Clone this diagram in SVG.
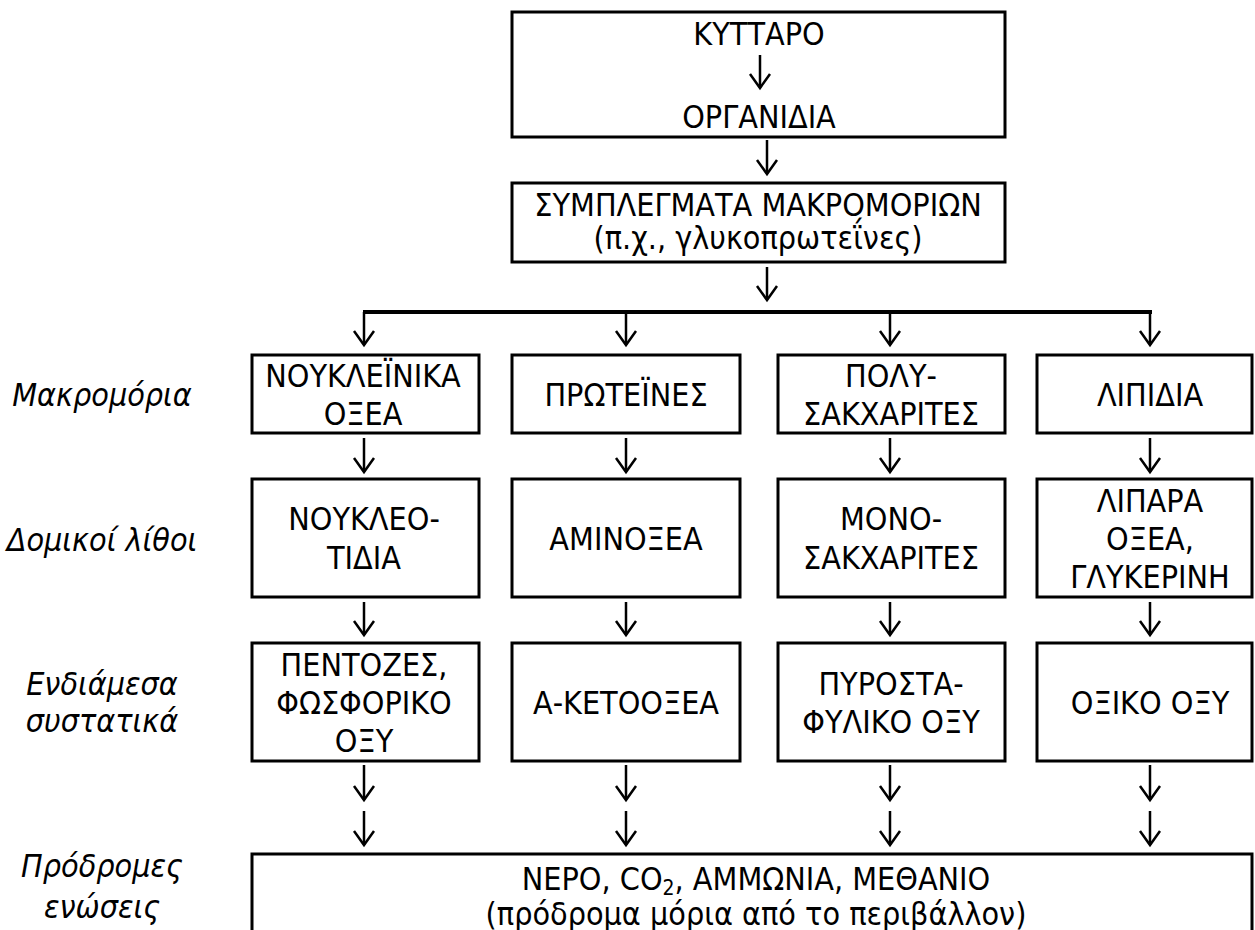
<svg xmlns="http://www.w3.org/2000/svg" width="1255" height="930" viewBox="0 0 1255 930">
<style>
.box{fill:#fff;stroke:#000;stroke-width:3}
.t{font-family:"DejaVu Sans Condensed","DejaVu Sans",sans-serif;font-size:32px;fill:#000;text-anchor:middle}
.lab{font-family:"DejaVu Sans Condensed","DejaVu Sans",sans-serif;font-size:32px;font-style:italic;fill:#000;text-anchor:middle}
.c{fill:none;stroke:#000;stroke-width:2.5}
.bar{fill:none;stroke:#000;stroke-width:4}
</style>
<defs>
<marker id="ah" markerUnits="userSpaceOnUse" markerWidth="30" markerHeight="30" refX="0" refY="0" orient="auto" overflow="visible">
<path d="M-14,-10 L0,0 L-14,10" fill="none" stroke="#000" stroke-width="2.5"/>
</marker>
</defs>
<rect width="1255" height="930" fill="#fff"/>

<g id="labels">
<text class="lab" x="102" y="406">Μακρομόρια</text>
<text class="lab" x="102" y="551">Δομικοί λίθοι</text>
<text class="lab" x="102" y="695">Ενδιάμεσα</text>
<text class="lab" x="102" y="732">συστατικά</text>
<text class="lab" x="102" y="877">Πρόδρομες</text>
<text class="lab" x="102" y="918">ενώσεις</text>
</g>

<g id="cell">
<rect class="box" x="512" y="12" width="493" height="125"/>
<text class="t" x="759" y="45">ΚΥΤΤΑΡΟ</text>
<text class="t" x="759" y="128">ΟΡΓΑΝΙΔΙΑ</text>
</g>

<g id="complexes">
<rect class="box" x="512" y="183" width="493" height="79"/>
<text class="t" x="758" y="216">ΣΥΜΠΛΕΓΜΑΤΑ ΜΑΚΡΟΜΟΡΙΩΝ</text>
<text class="t" x="758" y="249">(π.χ., γλυκοπρωτεΐνες)</text>
</g>

<g id="nucleic-acids">
<rect class="box" x="252" y="355" width="227" height="78"/>
<text class="t" x="363" y="387">ΝΟΥΚΛΕΪΝΙΚΑ</text>
<text class="t" x="363" y="425">ΟΞΕΑ</text>
</g>
<g id="proteins">
<rect class="box" x="512" y="355" width="228" height="78"/>
<text class="t" x="626" y="406">ΠΡΩΤΕΪΝΕΣ</text>
</g>
<g id="polysaccharides">
<rect class="box" x="778" y="355" width="227" height="78"/>
<text class="t" x="891" y="387">ΠΟΛΥ-</text>
<text class="t" x="891" y="425">ΣΑΚΧΑΡΙΤΕΣ</text>
</g>
<g id="lipids">
<rect class="box" x="1037" y="355" width="215" height="78"/>
<text class="t" x="1150" y="406">ΛΙΠΙΔΙΑ</text>
</g>

<g id="nucleotides">
<rect class="box" x="252" y="479" width="227" height="118"/>
<text class="t" x="364" y="530">ΝΟΥΚΛΕΟ-</text>
<text class="t" x="364" y="569">ΤΙΔΙΑ</text>
</g>
<g id="amino-acids">
<rect class="box" x="512" y="479" width="228" height="118"/>
<text class="t" x="626" y="550">ΑΜΙΝΟΞΕΑ</text>
</g>
<g id="monosaccharides">
<rect class="box" x="778" y="479" width="227" height="118"/>
<text class="t" x="891" y="530">ΜΟΝΟ-</text>
<text class="t" x="891" y="569">ΣΑΚΧΑΡΙΤΕΣ</text>
</g>
<g id="fatty-acids">
<rect class="box" x="1037" y="479" width="215" height="118"/>
<text class="t" x="1150" y="512">ΛΙΠΑΡΑ</text>
<text class="t" x="1150" y="550">ΟΞΕΑ,</text>
<text class="t" x="1150" y="588">ΓΛΥΚΕΡΙΝΗ</text>
</g>

<g id="pentoses">
<rect class="box" x="252" y="643" width="227" height="118"/>
<text class="t" x="364" y="676">ΠΕΝΤΟΖΕΣ,</text>
<text class="t" x="364" y="714">ΦΩΣΦΟΡΙΚΟ</text>
<text class="t" x="364" y="752">ΟΞΥ</text>
</g>
<g id="keto-acids">
<rect class="box" x="512" y="643" width="228" height="118"/>
<text class="t" x="626" y="714">Α-ΚΕΤΟΟΞΕΑ</text>
</g>
<g id="pyruvic">
<rect class="box" x="778" y="643" width="227" height="118"/>
<text class="t" x="891" y="695">ΠΥΡΟΣΤΑ-</text>
<text class="t" x="891" y="733">ΦΥΛΙΚΟ ΟΞΥ</text>
</g>
<g id="acetic">
<rect class="box" x="1037" y="643" width="215" height="118"/>
<text class="t" x="1150" y="714">ΟΞΙΚΟ ΟΞΥ</text>
</g>

<g id="precursors">
<rect class="box" x="252" y="854" width="1000" height="90"/>
<text class="t" x="756" y="890">ΝΕΡΟ, CO<tspan font-size="21" dy="5">2</tspan><tspan dy="-5">, ΑΜΜΩΝΙΑ, ΜΕΘΑΝΙΟ</tspan></text>
<text class="t" x="756" y="925">(πρόδρομα μόρια από το περιβάλλον)</text>
</g>

<g id="connectors">
<path class="c" d="M760,55 V88" marker-end="url(#ah)"/>
<path class="c" d="M767,140 V174" marker-end="url(#ah)"/>
<path class="c" d="M767,267 V300" marker-end="url(#ah)"/>
<path class="bar" d="M363,312 H1152"/>
<path class="c" d="M364,312 V345" marker-end="url(#ah)"/>
<path class="c" d="M626,312 V345" marker-end="url(#ah)"/>
<path class="c" d="M890,312 V345" marker-end="url(#ah)"/>
<path class="c" d="M1150,312 V345" marker-end="url(#ah)"/>
<path class="c" d="M364,438 V472" marker-end="url(#ah)"/>
<path class="c" d="M626,438 V472" marker-end="url(#ah)"/>
<path class="c" d="M890,438 V472" marker-end="url(#ah)"/>
<path class="c" d="M1150,438 V472" marker-end="url(#ah)"/>
<path class="c" d="M364,602 V635" marker-end="url(#ah)"/>
<path class="c" d="M626,602 V635" marker-end="url(#ah)"/>
<path class="c" d="M890,602 V635" marker-end="url(#ah)"/>
<path class="c" d="M1150,602 V635" marker-end="url(#ah)"/>
<path class="c" d="M364,765 V800" marker-end="url(#ah)"/>
<path class="c" d="M626,765 V800" marker-end="url(#ah)"/>
<path class="c" d="M890,765 V800" marker-end="url(#ah)"/>
<path class="c" d="M1150,765 V800" marker-end="url(#ah)"/>
<path class="c" d="M364,811 V845" marker-end="url(#ah)"/>
<path class="c" d="M626,811 V845" marker-end="url(#ah)"/>
<path class="c" d="M890,811 V845" marker-end="url(#ah)"/>
<path class="c" d="M1150,811 V845" marker-end="url(#ah)"/>
</g>
</svg>
